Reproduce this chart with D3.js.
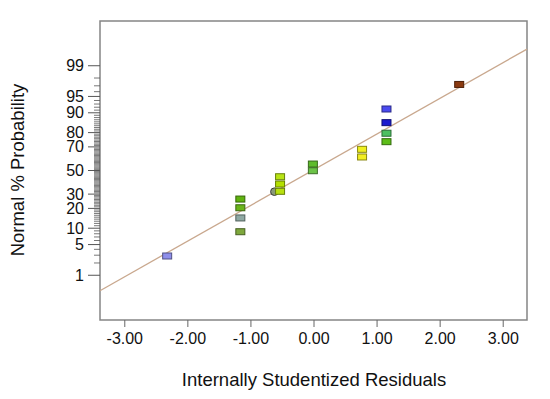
<!DOCTYPE html>
<html>
<head>
<meta charset="utf-8">
<script src="https://cdn.jsdelivr.net/npm/d3@7"></script>
<style>
  body { margin: 0; background: #fff; }
  text { font-family: "Liberation Sans", Arial, sans-serif; fill: #111; }
</style>
</head>
<body>
<svg id="chart" width="550" height="399"></svg>
<script>
// residuals (x) and normal % probability (y)
const residuals = [-2.32, -1.16, -1.16, -1.16, -1.16, -0.62, -0.53, -0.53, -0.53,
  -0.01, -0.01, 0.77, 0.77, 1.157, 1.157, 1.157, 1.157, 2.31];
const probs = [2.88, 8.7, 14.6, 20.4, 26.3, 31.9, 32.2, 38.2, 44.5,
  49.8, 55.7, 61.8, 68.1, 73.9, 79.6, 85.6, 91.4, 97.2];
const pointColors = ['#8e8eea', '#7ea83c', '#8fa9a3', '#6ab51a', '#5fb30f', '#8a9a78',
  '#b8e010', '#b4e000', '#b8e414', '#6cc348', '#5fbc2c', '#f2ee22', '#f0f020',
  '#5cbd18', '#4cc060', '#1a1acf', '#4a4af0', '#8b3a10'];
const pointShapes = ['sq', 'sq', 'sq', 'sq', 'sq', 'circle', 'sq', 'sq', 'sq',
  'sq', 'sq', 'sq', 'sq', 'sq', 'sq', 'sq', 'sq', 'sq'];

// fitted normal line end points
const fitX = [-3.385, 3.385];
const fitP = [0.38, 99.65];

const xTicks = [-3, -2, -1, 0, 1, 2, 3];
const yMajor = [1, 5, 10, 20, 30, 50, 70, 80, 90, 95, 99];
const yMinor = d3.range(1, 100).filter(d => !yMajor.includes(d));

// inverse normal cdf (Acklam)
function probit(p) {
  const a = [-3.969683028665376e+01, 2.209460984245205e+02, -2.759285104469687e+02,
    1.383577518672690e+02, -3.066479806614716e+01, 2.506628277459239e+00];
  const b = [-5.447609879822406e+01, 1.615858368580409e+02, -1.556989798598866e+02,
    6.680131188771972e+01, -1.328068155288572e+01];
  const c = [-7.784894002430293e-03, -3.223964580411365e-01, -2.400758277161838e+00,
    -2.549732539343734e+00, 4.374664141464968e+00, 2.938163982698783e+00];
  const d = [7.784695709041462e-03, 3.224671290700398e-01, 2.445134137142996e+00,
    3.754408661907416e+00];
  const pl = 0.02425;
  let q, r;
  if (p < pl) {
    q = Math.sqrt(-2 * Math.log(p));
    return (((((c[0] * q + c[1]) * q + c[2]) * q + c[3]) * q + c[4]) * q + c[5]) /
      ((((d[0] * q + d[1]) * q + d[2]) * q + d[3]) * q + 1);
  }
  if (p > 1 - pl) {
    q = Math.sqrt(-2 * Math.log(1 - p));
    return -(((((c[0] * q + c[1]) * q + c[2]) * q + c[3]) * q + c[4]) * q + c[5]) /
      ((((d[0] * q + d[1]) * q + d[2]) * q + d[3]) * q + 1);
  }
  q = p - 0.5;
  r = q * q;
  return (((((a[0] * r + a[1]) * r + a[2]) * r + a[3]) * r + a[4]) * r + a[5]) * q /
    (((((b[0] * r + b[1]) * r + b[2]) * r + b[3]) * r + b[4]) * r + 1);
}

const svg = d3.select('#chart');
const plotL = 100, plotR = 527, plotT = 21, plotB = 320;

const x = d3.scaleLinear().domain([-3.385, 3.385]).range([plotL, plotR]);
const z = d3.scaleLinear().domain([-3.32, 3.32]).range([plotB, plotT]);
const y = p => z(probit(p / 100));

// frame
svg.append('rect')
  .attr('x', plotL).attr('y', plotT)
  .attr('width', plotR - plotL).attr('height', plotB - plotT)
  .attr('fill', 'none').attr('stroke', '#858585').attr('stroke-width', 1.5);

// x axis
const xAxis = svg.append('g')
  .attr('transform', `translate(0,${plotB})`)
  .call(d3.axisBottom(x).tickValues(xTicks).tickSize(7).tickPadding(6));
xAxis.select('.domain').remove();
xAxis.selectAll('line').attr('stroke', '#666');
xAxis.selectAll('text')
  .style('font-size', '16px').style('font-family', '"Liberation Sans", Arial, sans-serif')
  .style('fill', '#111')
  .text(d => d3.format('.2f')(d).replace('−', '-'));

// y axis: minor ticks then major ticks
const yg = svg.append('g');
yg.selectAll('line.minor')
  .data(yMinor)
  .join('line')
    .attr('class', 'minor')
    .attr('x1', plotL - 6).attr('x2', plotL)
    .attr('y1', d => y(d)).attr('y2', d => y(d))
    .attr('stroke', '#555').attr('stroke-width', 0.8);
yg.selectAll('line.major')
  .data(yMajor)
  .join('line')
    .attr('class', 'major')
    .attr('x1', plotL - 12).attr('x2', plotL)
    .attr('y1', d => y(d)).attr('y2', d => y(d))
    .attr('stroke', '#555');
yg.selectAll('text')
  .data(yMajor)
  .join('text')
    .attr('x', plotL - 16)
    .attr('y', d => y(d))
    .attr('dy', '0.35em')
    .attr('text-anchor', 'end')
    .style('font-size', '16px')
    .text(d => d);

// axis titles
svg.append('text')
  .attr('x', 314).attr('y', 380).attr('dy', '0.35em')
  .attr('text-anchor', 'middle')
  .style('font-size', '18.5px')
  .text('Internally Studentized Residuals');
svg.append('text')
  .attr('transform', 'translate(18,170) rotate(-90)')
  .attr('dy', '0.35em')
  .attr('text-anchor', 'middle')
  .style('font-size', '18.5px')
  .text('Normal % Probability');

// fitted line
svg.append('line')
  .attr('x1', x(fitX[0])).attr('y1', y(fitP[0]))
  .attr('x2', x(fitX[1])).attr('y2', y(fitP[1]))
  .attr('stroke', '#c9a88e').attr('stroke-width', 1.3);

// points
const pts = residuals.map((r, i) => ({ r, p: probs[i], c: pointColors[i], s: pointShapes[i] }));
svg.selectAll('circle.pt')
  .data(pts.filter(d => d.s === 'circle'))
  .join('circle')
    .attr('class', 'pt')
    .attr('cx', d => x(d.r)).attr('cy', d => y(d.p))
    .attr('r', 3.8)
    .attr('fill', d => d.c)
    .attr('stroke', '#3a3a3a').attr('stroke-width', 1);
svg.selectAll('rect.pt')
  .data(pts.filter(d => d.s === 'sq'))
  .join('rect')
    .attr('class', 'pt')
    .attr('x', d => x(d.r) - 4.5).attr('y', d => y(d.p) - 3)
    .attr('width', 9).attr('height', 6)
    .attr('fill', d => d.c)
    .attr('stroke', d => d3.color(d.c).darker(1.6))
    .attr('stroke-width', 1);
</script>
</body>
</html>
